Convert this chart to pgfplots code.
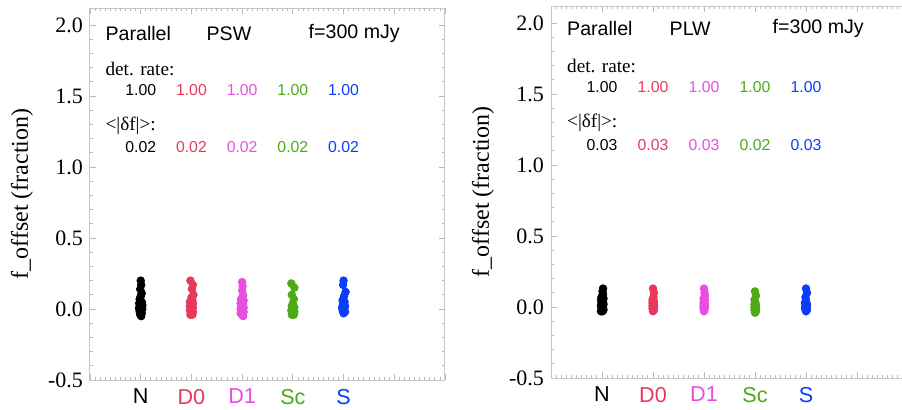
\documentclass[border=0pt]{standalone}
\usepackage{fontspec}
\setmainfont{Liberation Serif}
\setsansfont{Liberation Sans}
\usepackage{pgfplots}
\pgfplotsset{compat=1.18}
\definecolor{cN}{HTML}{000000}
\definecolor{cD}{HTML}{E8385C}
\definecolor{cM}{HTML}{E84FE0}
\definecolor{cG}{HTML}{4CAA18}
\definecolor{cB}{HTML}{0B3DF8}
\newcommand{\tfont}{\sffamily\fontsize{9.8}{11}\selectfont}
\newcommand{\nfont}{\sffamily\fontsize{7.9}{9}\selectfont}
\newcommand{\dfont}{\rmfamily\fontsize{9.6}{11}\selectfont}
\tikzset{lbl/.style={anchor=west, inner sep=0pt}}
\pgfplotsset{
  panel/.style={
    scale only axis,
    height=186pt,
    xmin=0, xmax=7, ymin=-0.5, ymax=2.12,
    axis line style={gray!45, line width=0.5pt},
    xtick={0,1,2,3,4,5,6,7},
    xticklabels={{},{\color{cN}N},{\color{cD}D0},{\color{cM}D1},{\color{cG}Sc},{\color{cB}S},{},{}},
    minor x tick num=9,
    ytick={-0.5,0,0.5,1,1.5,2},
    minor y tick num=4,
    tick style={gray!55, line width=0.4pt},
    major tick length=3pt,
    minor tick length=1.5pt,
    tick align=inside,
    xtick pos=both, ytick pos=both,
    /pgf/number format/assume math mode=true,
    yticklabel style={font=\rmfamily\fontsize{11}{12}\selectfont, /pgf/number format/fixed, /pgf/number format/precision=1, /pgf/number format/fixed zerofill},
    xticklabel style={font=\sffamily\fontsize{10.8}{12}\selectfont, yshift=-1pt},
    every axis y label/.style={at={(rel axis cs:0,0.5)}, xshift=-34pt, rotate=90, anchor=center, font=\rmfamily\fontsize{12}{13}\selectfont},
    ylabel={f\_offset (fraction)},
    only marks,
    clip=false,
  },
  dots/.style={mark=*, mark size=1.9pt, mark options={draw=#1, fill=#1}},
}
\begin{document}
\begin{tikzpicture}
\path[use as bounding box] (0,0) rectangle (451pt,-204.5pt);
\clip (0,0) rectangle (451pt,-204.5pt);
% ---------------- Left panel (PSW)
\begin{axis}[panel, at={(45pt,-190pt)}, anchor=south west, width=177.5pt]
\addplot[dots=cN] coordinates {(1.00,0.20) (1.01,0.17) (0.99,0.14) (1.02,0.11) (1.00,0.09) (0.98,0.07) (1.02,0.05) (0.97,0.04) (1.03,0.03) (0.99,0.02) (1.01,0.01) (0.97,0.00) (1.03,0.00) (1.00,-0.01) (0.98,-0.02) (1.02,-0.03) (0.99,-0.04) (1.01,-0.05) (0.97,0.01) (1.03,0.02)};
\addplot[dots=cD] coordinates {(1.98,0.20) (2.03,0.17) (2.01,0.14) (2.04,0.10) (2.00,0.08) (1.97,0.05) (2.03,0.04) (2.00,0.03) (1.97,0.02) (2.03,0.01) (2.00,0.00) (1.97,-0.01) (2.03,-0.02) (2.00,-0.03) (1.98,-0.04) (2.02,-0.04) (2.02,0.06)};
\addplot[dots=cM] coordinates {(3.00,0.19) (3.01,0.16) (3.00,0.13) (3.02,0.10) (2.98,0.07) (3.03,0.06) (2.97,0.04) (3.02,0.03) (2.99,0.02) (3.03,0.01) (2.97,0.00) (3.00,-0.01) (3.03,-0.02) (2.97,-0.03) (3.00,-0.04) (3.02,-0.05)};
\addplot[dots=cG] coordinates {(3.97,0.18) (4.03,0.15) (3.98,0.10) (4.02,0.07) (4.00,0.04) (3.98,0.02) (4.03,0.01) (4.00,0.00) (3.97,-0.01) (4.03,-0.02) (4.00,-0.03) (3.98,-0.04) (4.02,-0.04)};
\addplot[dots=cB] coordinates {(5.00,0.20) (4.99,0.17) (5.04,0.12) (5.01,0.09) (4.98,0.06) (5.02,0.05) (4.99,0.03) (5.03,0.02) (4.97,0.01) (5.01,0.00) (4.98,-0.01) (5.03,-0.02) (5.00,-0.03)};
\node[lbl, font=\tfont] at (axis cs:0.3,1.94) {Parallel};
\node[font=\tfont] at (axis cs:2.74,1.94) {PSW};
\node[font=\tfont] at (axis cs:5.21,1.94) {f=300 mJy};
\node[lbl, font=\dfont] at (axis cs:0.3,1.69) {det. rate:};
\node[font=\nfont, text=cN] at (axis cs:1,1.54) {1.00};
\node[font=\nfont, text=cD] at (axis cs:2,1.54) {1.00};
\node[font=\nfont, text=cM] at (axis cs:3,1.54) {1.00};
\node[font=\nfont, text=cG] at (axis cs:4,1.54) {1.00};
\node[font=\nfont, text=cB] at (axis cs:5,1.54) {1.00};
\node[lbl, font=\dfont] at (axis cs:0.3,1.29) {<|δf|>:};
\node[font=\nfont, text=cN] at (axis cs:1,1.14) {0.02};
\node[font=\nfont, text=cD] at (axis cs:2,1.14) {0.02};
\node[font=\nfont, text=cM] at (axis cs:3,1.14) {0.02};
\node[font=\nfont, text=cG] at (axis cs:4,1.14) {0.02};
\node[font=\nfont, text=cB] at (axis cs:5,1.14) {0.02};
\end{axis}
% ---------------- Right panel (PLW)
\begin{axis}[panel, at={(275.5pt,-189pt)}, anchor=south west, width=191.25pt, xmax=7.5]
\addplot[dots=cN] coordinates {(1.02,0.13) (1.01,0.11) (1.02,0.09) (0.99,0.07) (1.03,0.06) (0.98,0.05) (1.02,0.04) (0.99,0.03) (1.03,0.02) (0.98,0.01) (1.02,0.00) (0.99,-0.01) (1.03,-0.02) (0.98,-0.03) (1.01,-0.03)};
\addplot[dots=cD] coordinates {(2.00,0.13) (2.02,0.10) (2.01,0.07) (1.99,0.05) (2.02,0.04) (1.99,0.03) (2.02,0.02) (1.99,0.01) (2.02,0.00) (1.99,-0.01) (2.02,-0.02) (2.00,-0.03)};
\addplot[dots=cM] coordinates {(3.00,0.13) (3.01,0.10) (3.02,0.08) (2.99,0.06) (3.02,0.05) (2.99,0.03) (3.02,0.02) (2.99,0.01) (3.02,0.00) (2.99,-0.01) (3.01,-0.02) (3.00,-0.03)};
\addplot[dots=cG] coordinates {(4.00,0.11) (4.02,0.08) (3.99,0.05) (4.01,0.03) (3.99,0.02) (4.02,0.01) (3.99,0.00) (4.02,-0.01) (3.99,-0.02) (4.02,-0.03) (4.00,-0.04)};
\addplot[dots=cB] coordinates {(5.00,0.13) (5.02,0.10) (4.99,0.07) (5.00,0.05) (4.98,0.03) (5.02,0.02) (4.99,0.01) (5.02,0.00) (4.98,-0.01) (5.02,-0.02) (5.00,-0.03)};
\node[lbl, font=\tfont] at (axis cs:0.31,1.96) {Parallel};
\node[font=\tfont] at (axis cs:2.73,1.96) {PLW};
\node[font=\tfont] at (axis cs:5.24,1.96) {f=300 mJy};
\node[lbl, font=\dfont] at (axis cs:0.31,1.70) {det. rate:};
\node[font=\nfont, text=cN] at (axis cs:1,1.55) {1.00};
\node[font=\nfont, text=cD] at (axis cs:2,1.55) {1.00};
\node[font=\nfont, text=cM] at (axis cs:3,1.55) {1.00};
\node[font=\nfont, text=cG] at (axis cs:4,1.55) {1.00};
\node[font=\nfont, text=cB] at (axis cs:5,1.55) {1.00};
\node[lbl, font=\dfont] at (axis cs:0.31,1.30) {<|δf|>:};
\node[font=\nfont, text=cN] at (axis cs:1,1.14) {0.03};
\node[font=\nfont, text=cD] at (axis cs:2,1.14) {0.03};
\node[font=\nfont, text=cM] at (axis cs:3,1.14) {0.03};
\node[font=\nfont, text=cG] at (axis cs:4,1.14) {0.02};
\node[font=\nfont, text=cB] at (axis cs:5,1.14) {0.03};
\end{axis}
\end{tikzpicture}
\end{document}
